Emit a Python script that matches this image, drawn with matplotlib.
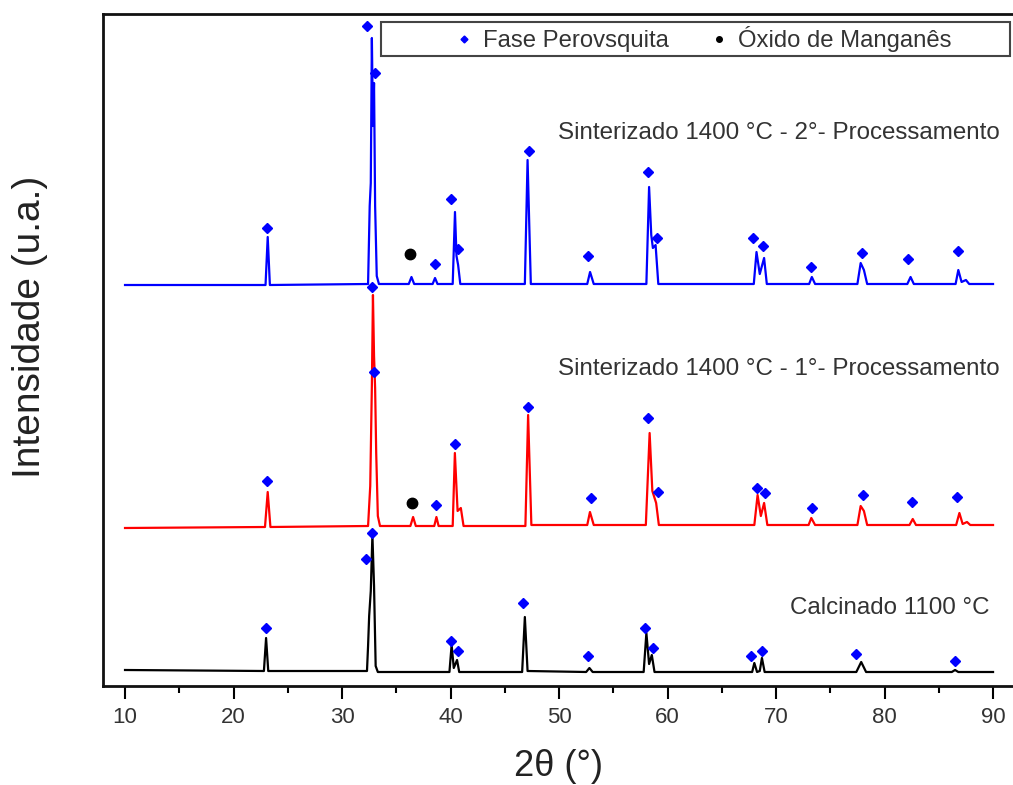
import matplotlib
matplotlib.use("Agg")
import matplotlib.pyplot as plt
from matplotlib.lines import Line2D
from matplotlib.patches import Rectangle
from matplotlib.ticker import MultipleLocator

plt.rcParams['font.family'] = ['Liberation Sans', 'DejaVu Sans']

# ---------------- data (2theta in degrees, intensity in arbitrary units) -------------
# Calcinado 1100 °C (black) - polyline vertices
x_calc = [10, 22.8, 23.0, 23.2, 32.3, 32.4, 32.5, 32.65, 32.8, 32.95, 33.1, 33.3,
          39.9, 40.1, 40.3, 40.6, 40.8, 46.6, 46.85, 47.1, 52.5, 52.8, 53.1,
          57.8, 58.05, 58.3, 58.55, 58.8, 67.8, 68.0, 68.25, 68.5, 68.7, 68.95,
          77.4, 77.85, 78.3, 86.2, 86.5, 86.8, 90]
y_calc = [16, 15, 48, 15, 15, 40, 70, 95, 151, 100, 20, 14,
          14, 41, 18, 26, 14, 14, 69, 15, 14, 18, 14,
          14, 53, 22, 31, 14, 14, 23, 14, 15, 28, 14,
          14, 24, 14, 14, 16, 14, 14]

# Sinterizado 1400 °C - 1° processamento (red)
x_sint1 = [10, 22.9, 23.15, 23.4, 32.4, 32.6, 32.75, 32.85, 32.95, 33.05, 33.15, 33.3, 33.5,
           36.3, 36.55, 36.8, 38.5, 38.7, 38.9, 40.2, 40.4, 40.65, 40.95, 41.2,
           46.9, 47.15, 47.45, 52.6, 52.85, 53.2, 58.0, 58.35, 58.6, 58.95, 59.2,
           68.0, 68.3, 68.6, 68.9, 69.2, 73.0, 73.25, 73.6, 77.5, 77.8, 78.1, 78.4,
           82.3, 82.6, 82.9, 86.6, 86.9, 87.2, 87.6, 87.9, 90]
y_sint1 = [158, 159, 194, 159, 160, 200, 300, 391, 330, 298, 233, 170, 160,
           160, 169, 160, 160, 169, 160, 160, 233, 175, 178, 160,
           160, 271, 161, 161, 174, 161, 161, 253, 195, 183, 161,
           161, 191, 170, 183, 161, 161, 168, 161, 161, 180, 175, 161,
           161, 167, 161, 161, 173, 162, 164, 161, 161]

# Sinterizado 1400 °C - 2° processamento (blue)
x_sint2 = [10, 22.95, 23.15, 23.35, 32.4, 32.55, 32.65, 32.75, 32.85, 32.95, 33.05, 33.2, 33.4,
           36.15, 36.4, 36.65, 38.35, 38.57, 38.8, 40.2, 40.41, 40.55, 40.7, 40.9,
           46.85, 47.1, 47.4, 52.6, 52.86, 53.2, 58.05, 58.3, 58.5, 58.65, 58.9, 59.15,
           67.95, 68.2, 68.5, 68.9, 69.15, 73.05, 73.3, 73.6, 77.5, 77.8, 78.1, 78.4,
           82.1, 82.4, 82.7, 86.55, 86.8, 87.1, 87.5, 87.8, 90]
y_sint2 = [401, 401, 449, 401, 402, 480, 503, 648, 560, 603, 480, 410, 402,
           402, 409, 402, 402, 408, 402, 402, 474, 430, 421, 402,
           402, 526, 402, 402, 414, 402, 402, 499, 451, 438, 441, 402,
           402, 434, 412, 428, 402, 402, 409, 402, 402, 423, 416, 402,
           402, 409, 402, 402, 416, 404, 406, 402, 402]

# Perovskite phase markers (blue diamonds) per pattern
perov_x_calc = [23.0, 32.2, 32.8, 40.05, 40.65, 46.7, 52.65, 57.95, 58.65, 67.7, 68.7, 77.4, 86.45]
perov_y_calc = [58, 127, 153, 45, 35, 83, 30, 58, 38, 30, 35, 32, 25]
perov_x_sint1 = [23.1, 32.8, 32.95, 38.65, 40.4, 47.15, 52.95, 58.2, 59.1, 68.25, 69.0, 73.3, 78.0, 82.55, 86.7]
perov_y_sint1 = [205, 399, 314, 181, 242, 279, 188, 268, 194, 198, 193, 178, 191, 184, 189]
perov_x_sint2 = [23.1, 32.3, 33.05, 38.55, 40.05, 40.7, 47.2, 52.65, 58.2, 59.05, 67.9, 68.8, 73.2, 77.9, 82.2, 86.8]
perov_y_sint2 = [458, 660, 613, 422, 487, 437, 535, 430, 514, 448, 448, 440, 419, 433, 427, 435]

# Manganese oxide markers (black dots)
mn_x = [36.45, 36.25]
mn_y = [183, 432]

series_labels = ["Calcinado 1100 °C",
                 "Sinterizado 1400 °C - 1°- Processamento",
                 "Sinterizado 1400 °C - 2°- Processamento"]
legend_labels = ["Fase Perovsquita", "Óxido de Manganês"]
x_ticks = [10, 20, 30, 40, 50, 60, 70, 80, 90]

# ---------------- figure ----------------
W, H = 1013, 785
fig = plt.figure(figsize=(W / 100, H / 100), dpi=100)
ax = fig.add_axes([103 / W, 1 - 686 / H, 910 / W, 672 / H])

ax.plot(x_calc, y_calc, color='#000000', lw=1.6)
ax.plot(x_sint1, y_sint1, color='#ff0000', lw=1.6)
ax.plot(x_sint2, y_sint2, color='#0000ff', lw=1.6)

for px, py in [(perov_x_calc, perov_y_calc), (perov_x_sint1, perov_y_sint1), (perov_x_sint2, perov_y_sint2)]:
    ax.plot(px, py, linestyle='none', marker='D', color='#0000ff', markersize=5, zorder=5)
ax.plot(mn_x, mn_y, linestyle='none', marker='o', color='#000000', markersize=7.5, zorder=5)

txt_kw = dict(fontsize=17.4, color='#333333', ha='right', va='center')
ax.text(90.65, 553, series_labels[2], **txt_kw)
ax.text(90.65, 317, series_labels[1], **txt_kw)
ax.text(89.7, 78, series_labels[0], **txt_kw)

ax.set_xlim(7.97, 91.84)
ax.set_ylim(0, 672)
ax.set_xticks(x_ticks)
ax.xaxis.set_minor_locator(MultipleLocator(5))
ax.set_yticks([])
ax.tick_params(axis='x', which='major', direction='out', length=9, width=1.5, labelsize=16,
               pad=6, colors='#000000', labelcolor='#333333')
ax.tick_params(axis='x', which='minor', direction='out', length=5, width=1.5)
for s in ['left', 'bottom', 'top']:
    ax.spines[s].set_linewidth(2)
    ax.spines[s].set_color('#111111')
ax.spines['right'].set_visible(False)

ax.set_xlabel("2θ (°)", fontsize=26, color='#222222', labelpad=15)
ax.set_ylabel("Intensidade (u.a.)", fontsize=28, color='#222222')
ax.yaxis.set_label_coords(-0.060, 0.534)

# legend box
bx0, bx1 = (381 - 103) / 910, (1010 - 103) / 910
by0, by1 = (686 - 56) / 672, (686 - 22) / 672
ax.add_patch(Rectangle((bx0, by0), bx1 - bx0, by1 - by0, transform=ax.transAxes,
                       facecolor='white', edgecolor='#444444', lw=1.5, zorder=6))
handles = [Line2D([], [], linestyle='none', marker='D', color='#0000ff', markersize=3.5),
           Line2D([], [], linestyle='none', marker='o', color='#000000', markersize=4)]
leg = ax.legend(handles, legend_labels, loc='center', ncol=2, frameon=False,
                bbox_to_anchor=((bx0 + bx1) / 2 + 0.008, (by0 + by1) / 2), bbox_transform=ax.transAxes,
                fontsize=17.2, handlelength=0.8, handletextpad=0.4, columnspacing=1.7,
                borderpad=0, labelcolor='#333333')
leg.set_zorder(7)

fig.savefig("out.png", dpi=100)
